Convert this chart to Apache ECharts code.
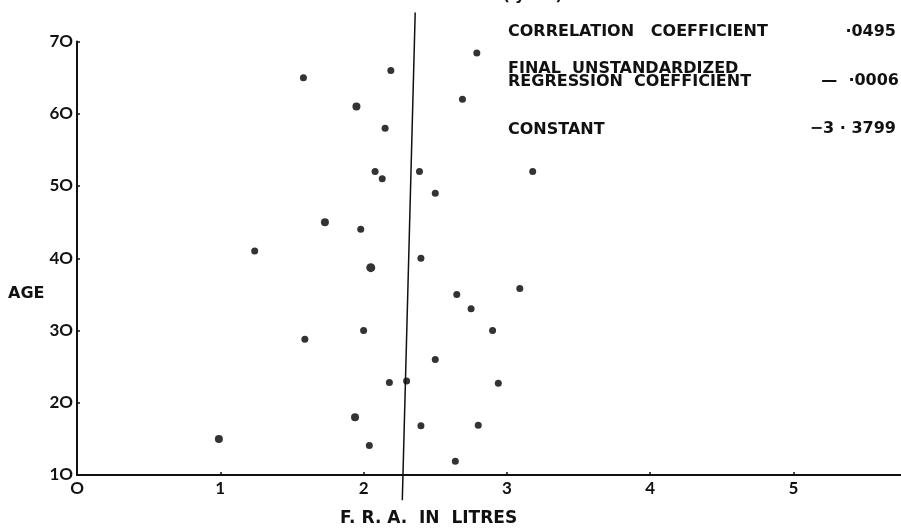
<!DOCTYPE html>
<html>
<head>
<meta charset="utf-8">
<script src="https://cdn.jsdelivr.net/npm/echarts@6/dist/echarts.min.js"></script>
<style>html,body{margin:0;padding:0;background:#fff;}#chart{width:901px;height:529px;}</style>
</head>
<body>
<div id="chart"></div>
<script>
// F.R.A. in litres (x) vs age (y)
var fra = [1.58, 2.19, 1.95, 2.15, 2.08, 2.13, 2.39, 2.50, 2.79, 2.69, 3.18,
           1.73, 1.98, 1.24, 2.40, 2.05, 3.09, 2.65, 2.75, 2.00, 1.59, 2.90,
           2.50, 2.18, 2.30, 2.94, 1.94, 2.40, 2.80, 0.99, 2.04, 2.64];
var age = [65, 66, 61, 58, 52, 51, 52, 49, 68.4, 62, 52,
           45, 44, 41, 40, 38.7, 35.8, 35, 33, 30, 28.8, 30,
           26, 22.8, 23, 22.7, 18, 16.8, 16.9, 15, 14.1, 11.9];
var dotSize = [7, 7, 8, 7, 7, 7, 7, 7, 7, 7, 7,
               8, 7, 7, 7, 9, 7, 7, 7, 7, 7, 7,
               7, 7, 7, 7, 8, 7, 7, 8, 7, 7];
// regression line endpoints (x, age)
var lineX = [2.27, 2.36];
var lineAge = [6.5, 74];
var xTicks = [0, 1, 2, 3, 4, 5];
var yTicks = [10, 20, 30, 40, 50, 60, 70];
var statLabels = ['CORRELATION   COEFFICIENT', 'FINAL  UNSTANDARDIZED', 'REGRESSION  COEFFICIENT', 'CONSTANT'];
var statValues = ['·0495', '—  ·0006', '−3 · 3799'];

var pts = fra.map(function (x, i) { return { value: [x, age[i]], symbolSize: dotSize[i] }; });
var linePts = lineX.map(function (x, i) { return [x, lineAge[i]]; });

var FONT = 'Lato';
var TFONT = '"DejaVu Sans"';
var chart = echarts.init(document.getElementById('chart'));
chart.setOption({
  backgroundColor: '#ffffff',
  animation: false,
  grid: { left: 77, right: 0, top: 41.5, bottom: 54, containLabel: false },
  xAxis: {
    type: 'value', min: 0, max: 5.75, interval: 1,
    axisLine: { show: true, lineStyle: { color: '#111', width: 2 } },
    axisTick: { show: true, inside: true, length: 3, lineStyle: { color: '#111', width: 1.5 } },
    splitLine: { show: false },
    axisLabel: {
      color: '#111', fontFamily: FONT, fontSize: 17, fontWeight: 'bold', margin: 5,
      showMaxLabel: false,
      formatter: function (v) { return xTicks.indexOf(v) >= 0 ? (v === 0 ? 'O' : String(v)) : ''; }
    }
  },
  yAxis: {
    type: 'value', min: 10, max: 70, interval: 10,
    axisLine: { show: true, lineStyle: { color: '#111', width: 2 } },
    axisTick: { show: true, inside: true, length: 3, lineStyle: { color: '#111', width: 1.5 } },
    splitLine: { show: false },
    axisLabel: {
      color: '#111', fontFamily: FONT, fontSize: 17, fontWeight: 'bold', margin: 4,
      formatter: function (v) { return yTicks.indexOf(v) >= 0 ? String(v / 10) + 'O' : ''; }
    }
  },
  series: [
    {
      type: 'scatter', data: pts, symbol: 'circle',
      itemStyle: { color: '#000' }, silent: true
    },
    {
      type: 'line', data: linePts, clip: false, symbol: 'none',
      lineStyle: { color: '#111', width: 1.5 }, silent: true
    }
  ],
  graphic: [
    { type: 'text', x: 8, y: 294, style: { text: 'AGE', font: 'bold 16px ' + TFONT, fill: '#111', verticalAlign: 'middle' } },
    { type: 'text', x: 340, y: 519, style: { text: 'F. R. A.  IN  LITRES', font: 'bold 17px ' + TFONT, fill: '#111', verticalAlign: 'middle' } },
    { type: 'text', x: 503, y: -4, style: { text: '( y - z )', font: 'bold 15px ' + TFONT, fill: '#111', verticalAlign: 'middle' } },
    { type: 'text', x: 508, y: 32, style: { text: statLabels[0], font: 'bold 16px ' + TFONT, fill: '#111', verticalAlign: 'middle' } },
    { type: 'text', x: 508, y: 69, style: { text: statLabels[1], font: 'bold 16px ' + TFONT, fill: '#111', verticalAlign: 'middle' } },
    { type: 'text', x: 508, y: 82, style: { text: statLabels[2], font: 'bold 16px ' + TFONT, fill: '#111', verticalAlign: 'middle' } },
    { type: 'text', x: 508, y: 130, style: { text: statLabels[3], font: 'bold 16px ' + TFONT, fill: '#111', verticalAlign: 'middle' } },
    { type: 'text', x: 896, y: 32, style: { text: statValues[0], font: 'bold 16px ' + TFONT, fill: '#111', align: 'right', verticalAlign: 'middle' } },
    { type: 'text', x: 899, y: 81, style: { text: statValues[1], font: 'bold 16px ' + TFONT, fill: '#111', align: 'right', verticalAlign: 'middle' } },
    { type: 'text', x: 896, y: 129, style: { text: statValues[2], font: 'bold 16px ' + TFONT, fill: '#111', align: 'right', verticalAlign: 'middle' } }
  ]
});
</script>
</body>
</html>
